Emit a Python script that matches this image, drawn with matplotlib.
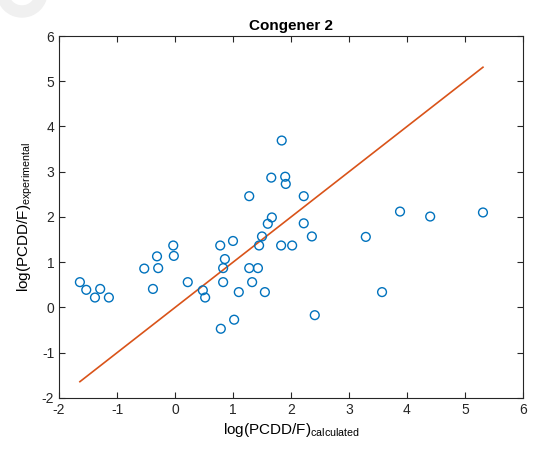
"""Scatter of experimental vs calculated log(PCDD/F) for congener 2."""

import matplotlib

matplotlib.use("Agg")
import matplotlib.pyplot as plt
import numpy as np
from matplotlib.patches import Wedge
from matplotlib.transforms import IdentityTransform

plt.rcParams["font.family"] = ["Liberation Sans", "DejaVu Sans"]
plt.rcParams["axes.unicode_minus"] = False

# values
log_calculated = [
    -1.64, -1.53, -1.38, -1.29, -1.14, -0.53, -0.38, -0.31, -0.29, -0.03,
    -0.02, 0.22, 0.48, 0.52, 0.78, 0.79, 0.83, 0.86, 0.83, 1.00,
    1.02, 1.10, 1.28, 1.28, 1.33, 1.43, 1.45, 1.50, 1.55, 1.60,
    1.66, 1.67, 1.84, 1.83, 1.90, 1.91, 2.02, 2.22, 2.22, 2.36,
    2.41, 3.29, 3.57, 3.88, 4.40, 5.31,
]
log_experimental = [
    0.56, 0.39, 0.22, 0.41, 0.22, 0.86, 0.41, 1.13, 0.87, 1.37,
    1.14, 0.56, 0.38, 0.22, 1.37, -0.47, 0.87, 1.07, 0.56, 1.47,
    -0.27, 0.34, 2.46, 0.87, 0.56, 0.87, 1.37, 1.57, 0.34, 1.85,
    2.87, 1.99, 3.69, 1.37, 2.89, 2.73, 1.37, 2.46, 1.86, 1.57,
    -0.17, 1.56, 0.34, 2.12, 2.01, 2.10,
]

fig = plt.figure(figsize=(5.33, 4.5), dpi=100)
ax = fig.add_axes([0.1107, 0.1156, 0.8705, 0.8044])

xs = np.sort(np.array(log_calculated))
ax.plot(xs, xs, color="#D95319", linewidth=1.2, zorder=2)
ax.scatter(log_calculated, log_experimental, s=40, facecolors="none",
           edgecolors="#0072BD", linewidths=1.0, zorder=3)

ax.set_xlim(-2, 6)
ax.set_ylim(-2, 6)
ax.set_xticks(range(-2, 7))
ax.set_yticks(range(-2, 7))
ax.tick_params(direction="in", length=4, width=0.8, labelsize=10,
               top=True, right=True, labeltop=False, labelright=False,
               colors="#262626")
for spine in ax.spines.values():
    spine.set_linewidth(0.8)
    spine.set_color("#262626")

ax.set_title("Congener 2", fontsize=11, fontweight="bold", pad=4)
ax.set_xlabel(r"log(PCDD/F)$_{\mathregular{calculated}}$", fontsize=11,
              labelpad=3)
ax.set_ylabel(r"log(PCDD/F)$_{\mathregular{experimental}}$", fontsize=11,
              labelpad=5)

# faint ring in the top-left corner of the reference (pixel coords)
ring = Wedge((22, 458), 25, 0, 360, width=11, color="#f0f0f0",
             transform=IdentityTransform(), zorder=0)
fig.patches.append(ring)

fig.savefig("out.png", dpi=100)
